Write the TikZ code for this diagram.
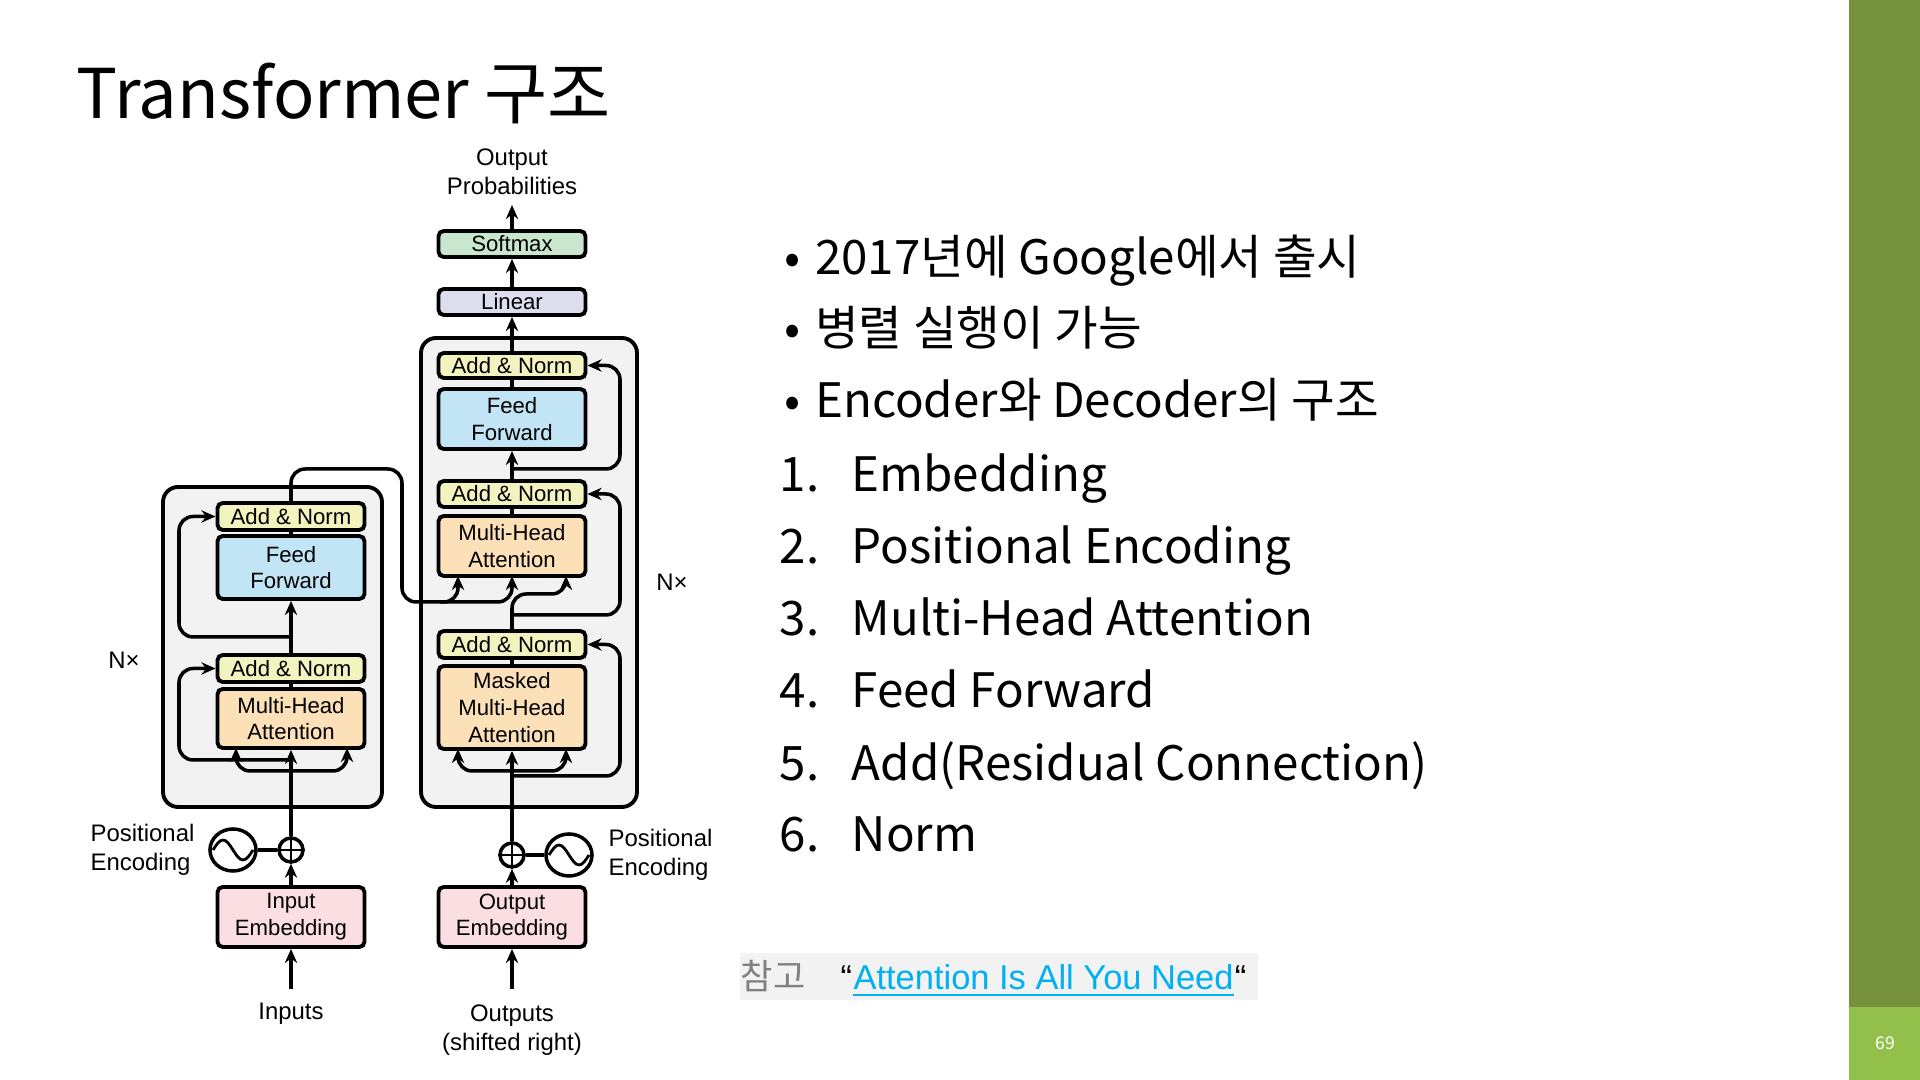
\documentclass[tikz,border=0pt]{standalone}
\usepackage{fontspec}
\setmainfont{Noto Sans CJK KR}
\newfontfamily\diagfont{Liberation Sans}
\definecolor{anfill}{RGB}{243,243,192}
\definecolor{fffill}{RGB}{194,229,245}
\definecolor{mhfill}{RGB}{252,224,184}
\definecolor{embfill}{RGB}{250,222,226}
\definecolor{linfill}{RGB}{220,222,240}
\definecolor{smfill}{RGB}{201,230,206}
\definecolor{stackfill}{RGB}{242,242,242}
\definecolor{bargreen}{RGB}{118,146,60}
\definecolor{barlight}{RGB}{146,192,74}
\definecolor{linkblue}{RGB}{0,176,240}
\usetikzlibrary{arrows.meta,shapes.geometric}
\begin{document}
\begin{tikzpicture}[x=0.01cm, y=-0.01cm, >={Stealth[length=4pt,width=3.5pt]},
layer/.style={draw, line width=1.1pt, rounded corners=1.5pt, minimum width=1.47cm, inner sep=0pt, align=center, font=\diagfont\fontsize{6.3}{7.6}\selectfont},
stack/.style={draw, line width=1.1pt, rounded corners=0.15cm, fill=stackfill},
flow/.style={line width=1pt, rounded corners=4pt},
lbl/.style={font=\diagfont\fontsize{6.8}{8.2}\selectfont, align=center, inner sep=0pt},
bullet/.style={anchor=base west, inner sep=0pt, font=\fontsize{13.5}{16}\selectfont},
]
\useasboundingbox (0,0) rectangle (1920,1080);
%%%%%%%% SLIDE %%%%%%%%
\fill[bargreen] (1849,0) rectangle (1920,1007);
\fill[barlight] (1849,1007) rectangle (1920,1080);
\node[text=white, font=\fontsize{5}{6}\selectfont] (pageno) at (1885,1043) {69};
\node[anchor=base west, inner sep=0pt, font=\fontsize{19.5}{24}\selectfont] (title) at (76,119) {Transformer 구조};

%%%%%%%% STACKS %%%%%%%%
\draw[stack] (163,487) rectangle (382,807);
\draw[stack] (421,338) rectangle (637,807);

%%%%%%%% ENCODER %%%%%%%%
\node[layer, fill=anfill, minimum height=0.27cm] (eAN2) at (291,516.5) {Add \& Norm};
\node[layer, fill=fffill, minimum height=0.63cm] (eFF) at (291,567.5) {Feed\\Forward};
\node[layer, fill=anfill, minimum height=0.27cm] (eAN1) at (291,668.5) {Add \& Norm};
\node[layer, fill=mhfill, minimum height=0.59cm] (eMHA) at (291,718.5) {Multi-Head\\Attention};
\node[layer, fill=embfill, minimum height=0.6cm] (eEmb) at (291,917) {Input\\Embedding};
\node[draw, circle, line width=1pt, minimum size=0.24cm, inner sep=0pt] (ePlus) at (291,850) {};
\draw[line width=0.8pt] (ePlus.north) -- (ePlus.south) (ePlus.west) -- (ePlus.east);
\node[draw, ellipse, line width=1pt, minimum width=0.46cm, minimum height=0.42cm, inner sep=0pt] (eSine) at (233,850) {};
\draw[line width=0.8pt] (213,850) sin (223,840) cos (233,850) sin (243,860) cos (253,850);
\draw[line width=1pt] (eSine.east) -- (ePlus.west);
\node[lbl, align=left, anchor=west] (ePos) at (90,850) {Positional\\Encoding};
\node[lbl] (inputs) at (291,1014) {Inputs};
\node[lbl] (eNx) at (124,660) {N\texttimes};

%%%%%%%% DECODER %%%%%%%%
\node[layer, fill=smfill, minimum height=0.26cm] (dSoft) at (512,244) {Softmax};
\node[layer, fill=linfill, minimum height=0.26cm] (dLin) at (512,302) {Linear};
\node[layer, fill=anfill, minimum height=0.25cm] (dAN3) at (512,365.5) {Add \& Norm};
\node[layer, fill=fffill, minimum height=0.6cm] (dFF) at (512,419) {Feed\\Forward};
\node[layer, fill=anfill, minimum height=0.26cm] (dAN2) at (512,494) {Add \& Norm};
\node[layer, fill=mhfill, minimum height=0.6cm] (dMHA) at (512,546) {Multi-Head\\Attention};
\node[layer, fill=anfill, minimum height=0.27cm] (dAN1) at (512,644.5) {Add \& Norm};
\node[layer, fill=mhfill, minimum height=0.83cm] (dMMHA) at (512,707.5) {Masked\\Multi-Head\\Attention};
\node[layer, fill=embfill, minimum height=0.6cm] (dEmb) at (512,917) {Output\\Embedding};
\node[draw, circle, line width=1pt, minimum size=0.24cm, inner sep=0pt] (dPlus) at (512,855) {};
\draw[line width=0.8pt] (dPlus.north) -- (dPlus.south) (dPlus.west) -- (dPlus.east);
\node[draw, ellipse, line width=1pt, minimum width=0.46cm, minimum height=0.42cm, inner sep=0pt] (dSine) at (569,855) {};
\draw[line width=0.8pt] (549,855) sin (559,845) cos (569,855) sin (579,865) cos (589,855);
\draw[line width=1pt] (dSine.west) -- (dPlus.east);
\node[lbl, align=left, anchor=west] (dPos) at (608,855) {Positional\\Encoding};
\node[lbl] (outputs) at (512,1030) {Outputs\\(shifted right)};
\node[lbl] (outprob) at (512,172) {Output\\Probabilities};
\node[lbl] (dNx) at (672,582) {N\texttimes};

%%%%%%%% ENCODER FLOW %%%%%%%%
\coordinate (inTail) at (291,989);
\draw[flow, ->] (inTail) -- (eEmb.south);
\draw[flow, ->] (eEmb.north) -- (ePlus.south);
\draw[flow, ->] (ePlus.north) -- (eMHA.south);
\draw[flow] (eMHA.north) -- (eAN1.south);
\draw[flow, ->] (eAN1.north) -- (eFF.south);
\draw[flow] (eFF.north) -- (eAN2.south);
\draw[flow, ->] (291,771) -- (236,771) -- (236,748);
\draw[flow, ->] (291,771) -- (347,771) -- (347,748);
\draw[flow, ->] (291,760) -- (179,760) -- (179,668.5) -- (eAN1.west);
\draw[flow, ->] (291,637) -- (179,637) -- (179,516.5) -- (eAN2.west);
\draw[flow, ->] (eAN2.north) -- (291,469) -- (402,469) -- (402,602) -- (458,602) -- (458,576);
\draw[flow, ->] (440,602) -- (512,602) -- (512,576);

%%%%%%%% DECODER FLOW %%%%%%%%
\coordinate (outTail) at (512,989);
\coordinate (probHead) at (512,205);
\draw[flow, ->] (outTail) -- (dEmb.south);
\draw[flow, ->] (dEmb.north) -- (dPlus.south);
\draw[flow, ->] (dPlus.north) -- (dMMHA.south);
\draw[flow, ->] (512,771) -- (458,771) -- (458,749);
\draw[flow, ->] (512,771) -- (566,771) -- (566,749);
\draw[flow] (dMMHA.north) -- (dAN1.south);
\draw[flow, ->] (512,776) -- (620,776) -- (620,644.5) -- (dAN1.east);
\draw[flow, ->] (dAN1.north) -- (512,594) -- (566,594) -- (566,576);
\draw[flow, ->] (512,615) -- (620,615) -- (620,494) -- (dAN2.east);
\draw[flow] (dMHA.north) -- (dAN2.south);
\draw[flow, ->] (dAN2.north) -- (dFF.south);
\draw[flow, ->] (512,469) -- (620,469) -- (620,365.5) -- (dAN3.east);
\draw[flow] (dFF.north) -- (dAN3.south);
\draw[flow, ->] (dAN3.north) -- (dLin.south);
\draw[flow, ->] (dLin.north) -- (dSoft.south);
\draw[flow, ->] (dSoft.north) -- (probHead);

%%%%%%%% TEXT %%%%%%%%
\node[bullet] (b1) at (784,275) {•\hspace{0.3em}2017년에 Google에서 출시};
\node[bullet] (b2) at (784,346) {•\hspace{0.3em}병렬 실행이 가능};
\node[bullet] (b3) at (784,418) {•\hspace{0.3em}Encoder와 Decoder의 구조};
\foreach \n/\y/\t in {1/492/Embedding, 2/564/Positional Encoding, 3/636/Multi-Head Attention, 4/708/Feed Forward, 5/781/Add(Residual Connection), 6/852/Norm}{
  \node[bullet] (n\n) at (779,\y) {\n.};
  \node[bullet] (t\n) at (851,\y) {\t};
}

%%%%%%%% REFERENCE %%%%%%%%
\fill[stackfill] (740,953) rectangle (1258,1000);
\node[anchor=base west, inner sep=0pt, text=gray, font=\fontsize{10}{12}\selectfont] (refword) at (740,990) {참고};
\node[anchor=base west, inner sep=0pt, font=\diagfont\fontsize{9.8}{11}\selectfont] (lq) at (840,990) {“};
\node[anchor=base west, inner sep=0pt, text=linkblue, font=\diagfont\fontsize{9.8}{11}\selectfont] (reflink) at (lq.base east) {Attention Is All You Need};
\node[anchor=base west, inner sep=0pt, font=\diagfont\fontsize{9.8}{11}\selectfont] (rq) at (reflink.base east) {“};
\draw[linkblue, line width=0.6pt] ([yshift=-1.5pt]reflink.base west) -- ([yshift=-1.5pt]reflink.base east);
\end{tikzpicture}
\end{document}
